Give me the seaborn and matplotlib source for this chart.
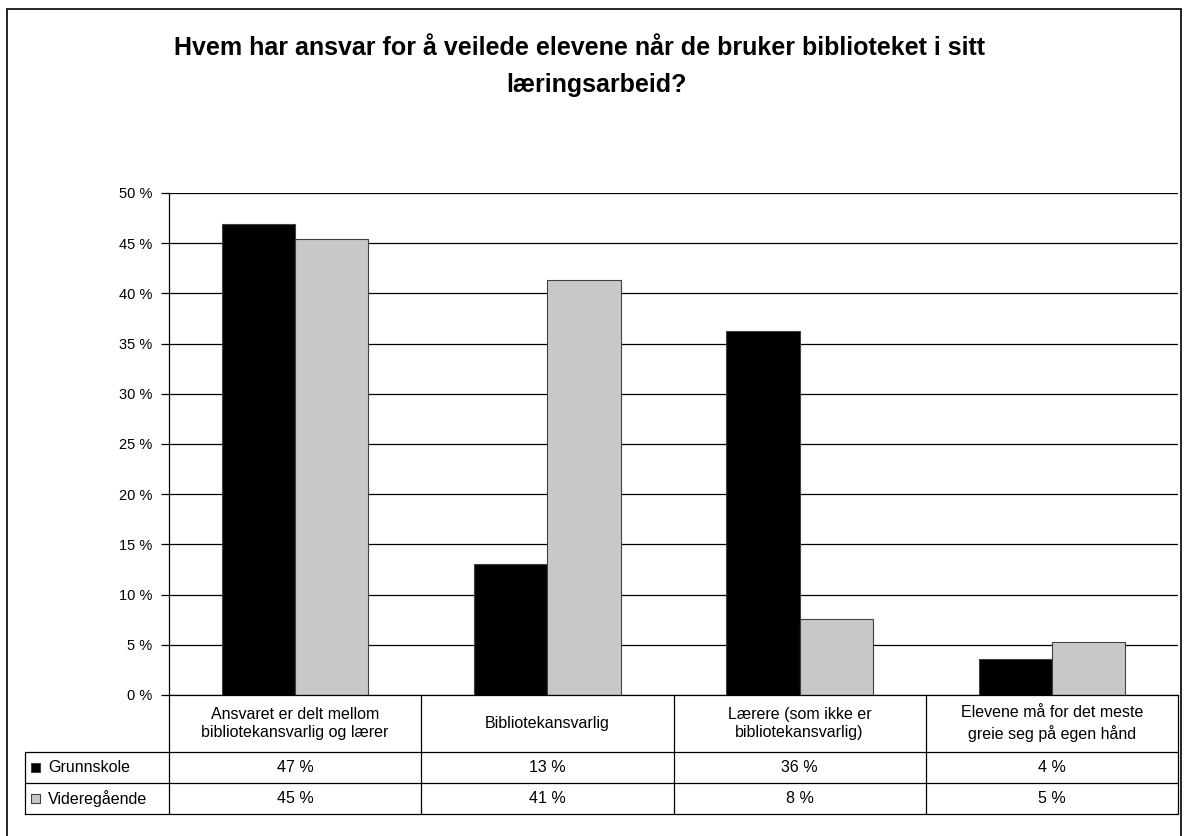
import matplotlib
matplotlib.use("Agg")
import matplotlib.pyplot as plt
import matplotlib.transforms as mtransforms
from matplotlib.patches import Rectangle
import pandas as pd
import seaborn as sns

kategorier = [
    "Ansvaret er delt mellom\nbibliotekansvarlig og lærer",
    "Bibliotekansvarlig",
    "Lærere (som ikke er\nbibliotekansvarlig)",
    "Elevene må for det meste\ngreie seg på egen hånd",
]
grunnskole = [46.9, 13.0, 36.3, 3.6]
videregaende = [45.4, 41.3, 7.6, 5.3]
serier = ["Grunnskole", "Videregående"]
farger = ["#000000", "#C8C8C8"]
yticks = [0, 5, 10, 15, 20, 25, 30, 35, 40, 45, 50]

df = pd.DataFrame({
    "kategori": kategorier * 2,
    "andel": grunnskole + videregaende,
    "skole": [serier[0]] * 4 + [serier[1]] * 4,
})

sns.set_style("white")
plt.rcParams["font.family"] = ["Liberation Sans", "DejaVu Sans"]
plt.rcParams["text.color"] = "black"
plt.rcParams["ytick.color"] = "black"
plt.rcParams["xtick.color"] = "black"

W, H = 1193, 836
fig = plt.figure(figsize=(W / 100, H / 100), dpi=100)


def fx(px):
    return px / W


def fy(py):
    return 1 - py / H


x0, x1, y0, y1 = 169, 1178, 193, 695
ax = fig.add_axes([fx(x0), fy(y1), fx(x1) - fx(x0), (y1 - y0) / H])

sns.barplot(data=df, x="kategori", y="andel", hue="skole", palette=farger,
            width=0.58, edgecolor="#404040", linewidth=0.8, ax=ax, legend=False)

ax.set_xlim(-0.5, 3.5)
ax.set_ylim(0, 50)
ax.set_yticks(yticks)
ax.set_yticklabels([f"{v} %" for v in yticks], fontsize=10.5)
ax.set_xticks([])
ax.set_xlabel("")
ax.set_ylabel("")
ax.set_axisbelow(True)
ax.yaxis.grid(True, color="black", linewidth=0.9)
ax.tick_params(axis="y", length=6, width=0.9, color="black", direction="out", left=True, pad=6)
for side in ["top", "right"]:
    ax.spines[side].set_visible(False)
ax.spines["left"].set_color("black")
ax.spines["bottom"].set_color("black")
ax.spines["left"].set_linewidth(0.9)
ax.spines["bottom"].set_linewidth(0.9)

# tittel
fig.text(fx(580), fy(48), "Hvem har ansvar for å veilede elevene når de bruker biblioteket i sitt",
         ha="center", va="center", fontsize=18, fontweight="bold")
fig.text(fx(596), fy(85), "læringsarbeid?", ha="center", va="center",
         fontsize=18, fontweight="bold")

# datatabell
blend = mtransforms.blended_transform_factory(ax.transData, fig.transFigure)
rad_y = [695, 752, 783, 814]
lw = 0.9
for i in range(len(kategorier) + 1):
    ax.plot([i - 0.5, i - 0.5], [fy(695), fy(814)], color="black", lw=lw,
            transform=blend, clip_on=False)
for py in rad_y[1:]:
    fig.add_artist(plt.Line2D([fx(25), fx(x1)], [fy(py), fy(py)], color="black", lw=lw))
fig.add_artist(plt.Line2D([fx(25), fx(25)], [fy(752), fy(814)], color="black", lw=lw))

for i, kat in enumerate(kategorier):
    ax.text(i, fy((695 + 752) / 2), kat, ha="center", va="center", fontsize=11.5,
            transform=blend, linespacing=1.3)
    for verdier, py in zip([grunnskole, videregaende], [767.5, 798.5]):
        ax.text(i, fy(py), f"{verdier[i]:.0f} %", ha="center", va="center",
                fontsize=11.5, transform=blend)

for navn, farge, py in zip(serier, farger, [767.5, 798.5]):
    fig.add_artist(Rectangle((fx(31), fy(py + 4.5)), fx(9), 9 / H, facecolor=farge,
                             edgecolor="#404040", lw=0.8))
    fig.text(fx(48), fy(py), navn, ha="left", va="center", fontsize=11.5)

ax.set_xlim(-0.5, 3.5)
ax.set_ylim(0, 50)

# ytre ramme
fig.add_artist(Rectangle((fx(7), fy(850)), fx(1181 - 7), (850 - 9) / H,
                         facecolor="none", edgecolor="black", lw=1.2))

fig.savefig("out.png", dpi=100)
